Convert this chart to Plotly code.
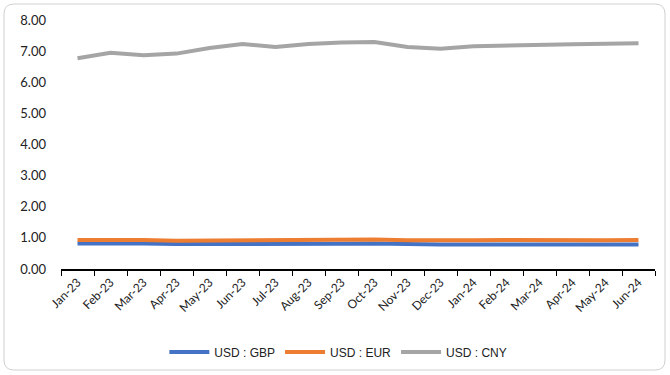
import plotly.graph_objects as go

months = ["Jan-23", "Feb-23", "Mar-23", "Apr-23", "May-23", "Jun-23", "Jul-23", "Aug-23", "Sep-23",
          "Oct-23", "Nov-23", "Dec-23", "Jan-24", "Feb-24", "Mar-24", "Apr-24", "May-24", "Jun-24"]
usd_gbp = [0.82, 0.83, 0.82, 0.80, 0.80, 0.79, 0.78, 0.79, 0.81, 0.82, 0.79, 0.79,
           0.79, 0.79, 0.79, 0.80, 0.79, 0.79]
usd_eur = [0.93, 0.94, 0.93, 0.91, 0.92, 0.92, 0.91, 0.92, 0.94, 0.95, 0.92, 0.91,
           0.92, 0.93, 0.92, 0.94, 0.92, 0.93]
usd_cny = [6.77, 6.95, 6.87, 6.92, 7.10, 7.23, 7.13, 7.23, 7.28, 7.29, 7.13, 7.08,
           7.16, 7.19, 7.21, 7.22, 7.24, 7.25]
y_ticks = [0, 1, 2, 3, 4, 5, 6, 7, 8]

series = [("USD : GBP", usd_gbp, "#4472C4"),
          ("USD : EUR", usd_eur, "#ED7D31"),
          ("USD : CNY", usd_cny, "#A5A5A5")]

fig = go.Figure()
for name, vals, color in series:
    fig.add_trace(go.Scatter(x=months, y=vals, name=name, mode="lines",
                             line=dict(color=color, width=4)))

# plot-area geometry in pixels (used for the rounded frame)
W, H = 670, 375
L, R, T, B = 61, 15, 20, 106
pw, ph = W - L - R, H - T - B

def px(x):
    return (x - L) / pw

def py(y):
    return (H - B - y) / ph

x0, x1, y0, y1, r = 4, 665, 4, 370, 10
frame = (f"M {px(x0 + r)},{py(y0)} L {px(x1 - r)},{py(y0)} "
         f"Q {px(x1)},{py(y0)} {px(x1)},{py(y0 + r)} "
         f"L {px(x1)},{py(y1 - r)} Q {px(x1)},{py(y1)} {px(x1 - r)},{py(y1)} "
         f"L {px(x0 + r)},{py(y1)} Q {px(x0)},{py(y1)} {px(x0)},{py(y1 - r)} "
         f"L {px(x0)},{py(y0 + r)} Q {px(x0)},{py(y0)} {px(x0 + r)},{py(y0)} Z")

fig.update_layout(
    width=W, height=H,
    margin=dict(l=L, r=R, t=T, b=B),
    paper_bgcolor="white", plot_bgcolor="white",
    font=dict(family="Lato, Liberation Sans, sans-serif", color="#222222"),
    shapes=[dict(type="path", xref="paper", yref="paper", path=frame,
                 line=dict(color="#D0D0D0", width=1), layer="below")],
    legend=dict(orientation="h", xref="container", yref="container",
                x=0.505, xanchor="center", y=(H - 352) / H, yanchor="middle",
                font=dict(family="Liberation Sans, Arial, sans-serif", size=12, color="#222222"),
                itemwidth=40, tracegroupgap=0),
    showlegend=True,
)
fig.update_xaxes(type="category", range=[-0.5, len(months) - 0.5], tickangle=-45, showgrid=False,
                 showline=True, linecolor="#000000", linewidth=1.5, automargin=False,
                 ticks="outside", tickson="boundaries", ticklen=5, tickcolor="#000000",
                 tickfont=dict(size=12, color="#222222"))
fig.update_yaxes(range=[0, 8], tickvals=y_ticks, tickformat=".2f", showgrid=False,
                 zeroline=False, showline=False, ticks="", ticklabelstandoff=14,
                 automargin=False, tickfont=dict(size=13, color="#222222"))

fig.write_html("out.html")
